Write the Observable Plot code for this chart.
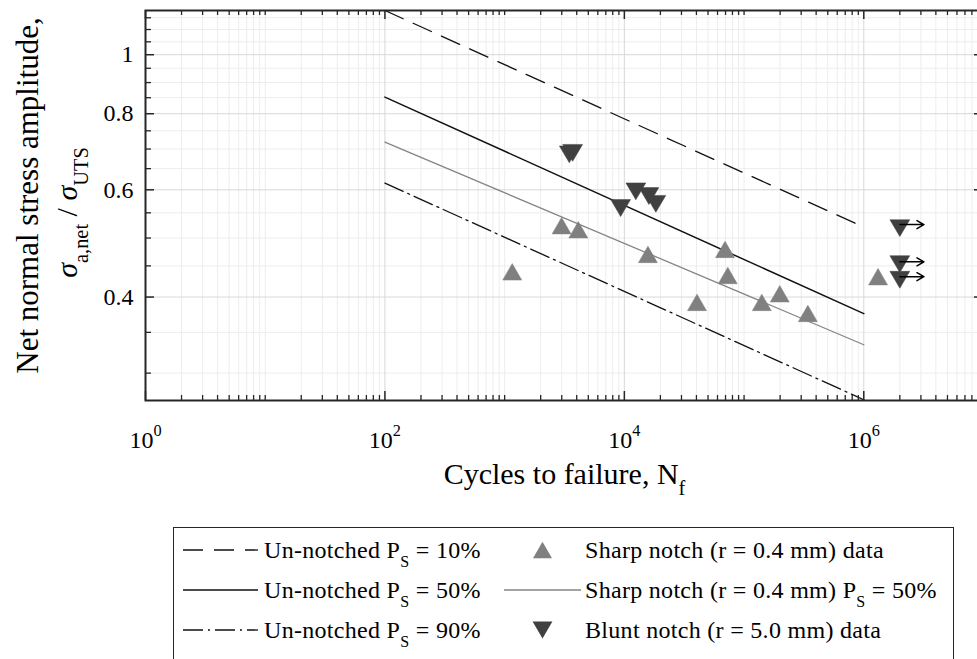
<!DOCTYPE html>
<html>
<head>
<meta charset="utf-8">
<script src="https://cdn.jsdelivr.net/npm/d3@7"></script>
<script src="https://cdn.jsdelivr.net/npm/@observablehq/plot@0.6"></script>
<style>
  html, body { margin: 0; padding: 0; background: #fff; overflow: hidden; }
  #wrap { position: relative; width: 977px; height: 659px; overflow: hidden; background: #fff;
          font-family: "Liberation Serif", "Times New Roman", serif; }
  #chart { width: 983px; }
  #legend { position: absolute; left: 173px; top: 527px; width: 781px; height: 160px;
            border: 1px solid #262626; background: #fff; box-sizing: border-box; }
  .lg-text { position: absolute; height: 40px; line-height: 40px; font-size: 24px; letter-spacing: 0.3px; color: #000; white-space: nowrap; }
  .lg-sub { font-size: 16px; position: relative; top: 9px; }
  .lg-sample { position: absolute; }
</style>
</head>
<body>
<div id="wrap">
  <div id="chart"></div>
  <div id="legend"></div>
</div>
<script>
// ---------------- data ----------------
const xMajorTicks = [1, 1e2, 1e4, 1e6];
const xDecades = [1, 10, 100, 1e3, 1e4, 1e5, 1e6];
const xMinorMultipliers = [2, 3, 4, 5, 6, 7, 8, 9];
const xUnlabelledDecades = [10, 1e3, 1e5];
const yMajorTicks = [0.4, 0.6, 0.8, 1];
const yMinorTicks = [0.3, 0.35, 0.45, 0.5, 0.55, 0.65, 0.7, 0.75, 0.85, 0.9, 0.95, 1.05, 1.1, 1.15];

// Sharp notch (r = 0.4 mm) data
const sharpN = [1157, 2990, 4125, 15740, 69350, 73100, 40450, 140600, 198700, 341000, 1316000];
const sharpS = [0.440, 0.524, 0.516, 0.470, 0.479, 0.434, 0.392, 0.392, 0.405, 0.376, 0.432];

// Blunt notch (r = 5.0 mm) data
const bluntN = [3470, 3700, 9310, 12470, 16030, 18330, 2.0e6, 2.0e6, 2.0e6];
const bluntS = [0.686, 0.690, 0.560, 0.5965, 0.586, 0.569, 0.519, 0.453, 0.427];

// Run-out arrows (blunt notch)
const runoutStartN = [2.0e6, 2.0e6, 2.0e6];
const runoutEndN = [3.18e6, 3.18e6, 3.18e6];
const runoutS = [0.526, 0.457, 0.432];

// Fitted S-N curves (end points)
const fitN = [1e2, 1e6];
const unnotched10 = [1.182, 0.521];
const unnotched50 = [0.852, 0.3756];
const unnotched90 = [0.6154, 0.2713];
const sharp50 = [0.7186, 0.334];

// Text
const xLabel = "Cycles to failure, N_{f}";
const yLabel1 = "Net normal stress amplitude,";
const yLabel2 = "σ_{a,net} / σ_{UTS}";
const legendLabels = [
  "Un-notched P_{S} = 10%", "Sharp notch (r = 0.4 mm) data",
  "Un-notched P_{S} = 50%", "Sharp notch (r = 0.4 mm) P_{S} = 50%",
  "Un-notched P_{S} = 90%", "Blunt notch (r = 5.0 mm) data"
];

// ---------------- styles / layout ----------------
const AX = "#262626";
const SHARP = "#808080";
const BLUNT = "#404040";
const W = 983, H = 520, mL = 145, mR = 0, mT = 10, mB = 120;
const plotW = W - mL - mR, plotH = H - mT - mB;

const xMinorTicks = [...xUnlabelledDecades, ...xDecades.flatMap(d => xMinorMultipliers.map(m => m * d))];

const triUp = {draw(ctx, size) {
  const w = Math.sqrt(size) * 1.53, h = Math.sqrt(size) * 1.33;
  ctx.moveTo(0, -h / 2); ctx.lineTo(w / 2, h / 2); ctx.lineTo(-w / 2, h / 2); ctx.closePath();
}};
const triDown = {draw(ctx, size) {
  const w = Math.sqrt(size) * 1.6, h = Math.sqrt(size) * 1.36;
  ctx.moveTo(0, h / 2); ctx.lineTo(w / 2, -h / 2); ctx.lineTo(-w / 2, -h / 2); ctx.closePath();
}};

const sharpData = sharpN.map((n, i) => ({n, s: sharpS[i]}));
const bluntData = bluntN.map((n, i) => ({n, s: bluntS[i]}));
const runouts = runoutS.map((s, i) => ({n1: runoutStartN[i], n2: runoutEndN[i], s}));

const fitSeries = [
  {vals: unnotched10, stroke: "#111", dash: "20,11", w: 1.3},
  {vals: unnotched50, stroke: "#111", dash: null, w: 1.5},
  {vals: unnotched90, stroke: "#111", dash: "20,5,2,5", w: 1.3},
  {vals: sharp50, stroke: "#858585", dash: null, w: 1.3}
];

const fitMarks = fitSeries.map(f => Plot.line(fitN.map((n, i) => ({n, s: f.vals[i]})), {
  x: "n", y: "s", stroke: f.stroke, strokeWidth: f.w,
  strokeDasharray: f.dash || undefined, clip: true
}));

const chart = Plot.plot({
  width: W, height: H,
  marginLeft: mL, marginRight: mR, marginTop: mT, marginBottom: mB,
  style: {fontFamily: '"Liberation Serif", "Times New Roman", serif', background: "transparent", maxWidth: "none", overflow: "visible", color: "#000"},
  x: {type: "log", domain: [1, 1e7]},
  y: {type: "log", domain: [0.2705, 1.182]},
  marks: [
    Plot.gridX(xMinorTicks, {stroke: "#ededed", strokeOpacity: 1, strokeWidth: 1}),
    Plot.gridY(yMinorTicks, {stroke: "#ededed", strokeOpacity: 1, strokeWidth: 1}),
    Plot.gridX(xMajorTicks, {stroke: "#d8d8d8", strokeOpacity: 1, strokeWidth: 1}),
    Plot.gridY(yMajorTicks, {stroke: "#d8d8d8", strokeOpacity: 1, strokeWidth: 1}),
    ...fitMarks,
    Plot.dot(sharpData, {x: "n", y: "s", symbol: triUp, r: 7, fill: SHARP, stroke: SHARP, strokeWidth: 0.5}),
    Plot.dot(bluntData, {x: "n", y: "s", symbol: triDown, r: 7, fill: BLUNT, stroke: BLUNT, strokeWidth: 0.5}),
    Plot.arrow(runouts, {x1: "n1", x2: "n2", y1: "s", y2: "s", stroke: "#000", strokeWidth: 1.5, headLength: 11, headAngle: 60}),
    // inward ticks
    Plot.tickX(xMajorTicks, {insetTop: plotH - 9, stroke: AX, strokeWidth: 1.5}),
    Plot.tickX(xMinorTicks, {insetTop: plotH - 5, stroke: AX, strokeWidth: 1.3}),
    Plot.tickX(xMajorTicks, {insetBottom: plotH - 9, stroke: AX, strokeWidth: 1.5}),
    Plot.tickX(xMinorTicks, {insetBottom: plotH - 5, stroke: AX, strokeWidth: 1.3}),
    Plot.tickY(yMajorTicks, {insetRight: plotW - 9, stroke: AX, strokeWidth: 1.5}),
    Plot.tickY(yMinorTicks, {insetRight: plotW - 6, stroke: AX, strokeWidth: 1.3}),
    Plot.tickY(yMajorTicks, {insetLeft: plotW - 9, stroke: AX, strokeWidth: 1.5}),
    Plot.tickY(yMinorTicks, {insetLeft: plotW - 6, stroke: AX, strokeWidth: 1.3}),
    Plot.frame({stroke: AX, strokeWidth: 2}),
    Plot.axisX(xMajorTicks, {anchor: "bottom", tickSize: 0, tickPadding: 30, fontSize: 24, label: null,
      tickFormat: d => `10^{${Math.round(Math.log10(d))}}`}),
    Plot.axisY(yMajorTicks, {anchor: "left", tickSize: 0, tickPadding: 12, fontSize: 24, label: null,
      tickFormat: d => String(d)}),
    Plot.text([xLabel], {frameAnchor: "bottom", dy: 83, lineAnchor: "bottom", textAnchor: "middle", fontSize: 30, fill: "#000"}),
    Plot.text([yLabel1], {frameAnchor: "left", dx: -108, dy: -10, rotate: -90, lineAnchor: "bottom", textAnchor: "middle", fontSize: 31, fill: "#000"}),
    Plot.text([yLabel2], {frameAnchor: "left", dx: -69, dy: 7, rotate: -90, lineAnchor: "bottom", textAnchor: "middle", fontSize: 30, fill: "#000"})
  ]
});
document.getElementById("chart").appendChild(chart);

// ---------------- rich text (sub/superscripts, italic sigma) ----------------
const NS = "http://www.w3.org/2000/svg";
function rich(textEl, base) {
  const s = textEl.textContent;
  if (!/[_^]\{|σ/.test(s)) return;
  textEl.textContent = "";
  const re = /([_^])\{([^}]*)\}|([^_^]+)/g;
  let m, shift = 0;
  while ((m = re.exec(s))) {
    if (m[1]) {
      const d = m[1] === "_" ? 0.38 * base : -0.5 * base;
      const t = document.createElementNS(NS, "tspan");
      t.setAttribute("dy", (d - shift).toFixed(2));
      t.setAttribute("font-size", (0.68 * base).toFixed(1));
      t.textContent = m[2];
      textEl.appendChild(t);
      shift = d;
    } else {
      const parts = m[3].split(/(σ)/).filter(p => p);
      parts.forEach((p, k) => {
        const t = document.createElementNS(NS, "tspan");
        if (k === 0 && shift) t.setAttribute("dy", (-shift).toFixed(2));
        if (p === "σ") t.setAttribute("font-style", "italic");
        t.textContent = p;
        textEl.appendChild(t);
      });
      shift = 0;
    }
  }
}
d3.select(chart).selectAll("text").each(function () {
  const s = this.textContent;
  if (/^10\^\{/.test(s)) rich(this, 24);
  else if (/[_^]\{|σ/.test(s)) rich(this, 30);
});

// ---------------- legend (HTML) ----------------
const legend = document.getElementById("legend");
const rowCenters = [22, 62, 102];
const legendSamples = [
  {type: "line", stroke: "#111", dash: "20,11", w: 1.3},
  {type: "marker", shape: "up", fill: SHARP},
  {type: "line", stroke: "#111", dash: null, w: 1.5},
  {type: "line", stroke: "#858585", dash: null, w: 1.3},
  {type: "line", stroke: "#111", dash: "20,5,2,5", w: 1.3},
  {type: "marker", shape: "down", fill: BLUNT}
];
const colSampleLeft = [9, 330], colSampleWidth = [75, 77], colTextLeft = [90, 411];
legendLabels.forEach((label, i) => {
  const col = i % 2, row = Math.floor(i / 2);
  const cy = rowCenters[row];
  const smp = legendSamples[i];
  const sw = colSampleWidth[col];
  const svgEl = document.createElementNS(NS, "svg");
  svgEl.setAttribute("width", sw); svgEl.setAttribute("height", 20);
  svgEl.setAttribute("class", "lg-sample");
  svgEl.style.left = colSampleLeft[col] + "px";
  svgEl.style.top = (cy - 10) + "px";
  if (smp.type === "line") {
    const l = document.createElementNS(NS, "line");
    l.setAttribute("x1", 0); l.setAttribute("x2", sw); l.setAttribute("y1", 10); l.setAttribute("y2", 10);
    l.setAttribute("stroke", smp.stroke); l.setAttribute("stroke-width", smp.w);
    if (smp.dash) l.setAttribute("stroke-dasharray", smp.dash);
    svgEl.appendChild(l);
  } else {
    const p = document.createElementNS(NS, "path");
    const g = d3.path();
    const size = Math.PI * 49;
    (smp.shape === "up" ? triUp : triDown).draw(g, size);
    p.setAttribute("d", g.toString());
    p.setAttribute("transform", `translate(${sw / 2},10)`);
    p.setAttribute("fill", smp.fill);
    svgEl.appendChild(p);
  }
  legend.appendChild(svgEl);
  const tx = document.createElement("div");
  tx.className = "lg-text";
  tx.style.left = colTextLeft[col] + "px";
  tx.style.top = (cy - 20) + "px";
  tx.innerHTML = label.replace(/_\{([^}]*)\}/g, '<span class="lg-sub">$1</span>');
  legend.appendChild(tx);
});
</script>
</body>
</html>
